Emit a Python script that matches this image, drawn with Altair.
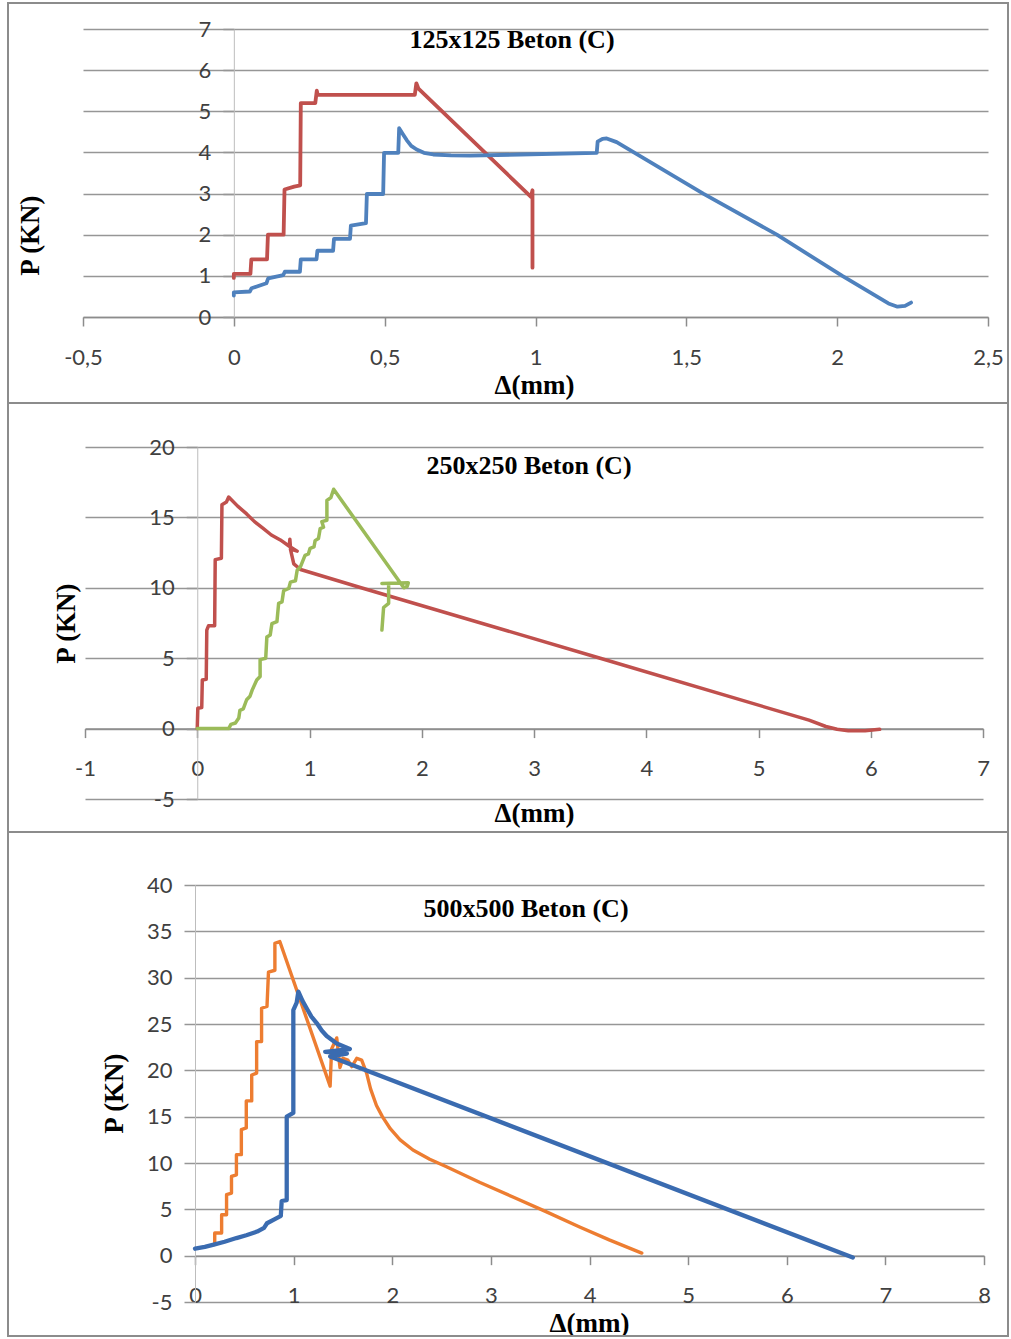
import altair as alt
import pandas as pd

# ---------------- Panel 1 : 125x125 Beton (C) ----------------
p1_red_x = [0, 0, 0.055, 0.058, 0.11, 0.113, 0.165, 0.168, 0.2, 0.22, 0.222, 0.27, 0.275, 0.278,
            0.6, 0.605, 0.612, 0.985, 0.99, 0.99]
p1_red_y = [0.95, 1.05, 1.05, 1.4, 1.4, 2.0, 2.0, 3.1, 3.17, 3.2, 5.2, 5.2, 5.5, 5.4,
            5.4, 5.68, 5.55, 2.92, 3.08, 1.2]
p1_blue_x = [0, 0, 0.053, 0.059, 0.108, 0.114, 0.164, 0.169, 0.219, 0.222, 0.274, 0.277, 0.329, 0.332,
             0.385, 0.388, 0.438, 0.441, 0.495, 0.498, 0.545, 0.548, 0.56, 0.573, 0.588, 0.606, 0.63,
             0.661, 0.72, 0.783, 0.949, 1.203, 1.206, 1.222, 1.236, 1.269, 1.556, 1.80, 2.017, 2.17,
             2.20, 2.225, 2.245]
p1_blue_y = [0.52, 0.6, 0.62, 0.7, 0.82, 0.94, 1.02, 1.1, 1.1, 1.4, 1.4, 1.61, 1.61, 1.9,
             1.9, 2.22, 2.28, 2.99, 2.99, 3.99, 3.99, 4.59, 4.45, 4.30, 4.16, 4.07, 3.99,
             3.95, 3.93, 3.92, 3.95, 3.99, 4.26, 4.33, 4.34, 4.25, 3.0, 2.0, 1.0, 0.33,
             0.25, 0.27, 0.35]
p1_xticks = [-0.5, 0, 0.5, 1, 1.5, 2, 2.5]
p1_yticks = [0, 1, 2, 3, 4, 5, 6, 7]

# ---------------- Panel 2 : 250x250 Beton (C) ----------------
p2_red_x = [0, 0.005, 0.04, 0.045, 0.08, 0.085, 0.1, 0.155, 0.16, 0.215, 0.22, 0.26, 0.28, 0.36, 0.44,
            0.51, 0.59, 0.66, 0.74, 0.82, 0.825, 0.83, 0.89, 0.83, 0.86, 0.92, 1.46, 3.59, 5.45, 5.6,
            5.7, 5.8, 5.95, 6.08]
p2_red_y = [0, 1.45, 1.5, 3.45, 3.5, 7.0, 7.3, 7.3, 12.0, 12.1, 15.9, 16.1, 16.45, 15.8, 15.25,
            14.7, 14.2, 13.75, 13.4, 12.95, 13.45, 12.9, 12.6, 12.75, 11.7, 11.3, 10.0, 5.0, 0.6, 0.15,
            -0.05, -0.15, -0.15, -0.05]
p2_green_x = [0, 0.28, 0.30, 0.34, 0.37, 0.38, 0.41, 0.44, 0.47, 0.49, 0.53, 0.56, 0.56, 0.61, 0.62,
              0.65, 0.665, 0.71, 0.725, 0.755, 0.77, 0.815, 0.83, 0.875, 0.89, 0.92, 0.96, 0.99, 1.005,
              1.04, 1.05, 1.08, 1.095, 1.125, 1.11, 1.155, 1.155, 1.19, 1.215,
              1.84, 1.87, 1.88, 1.645, 1.705, 1.705, 1.66, 1.645]
p2_green_y = [0, 0, 0.3, 0.4, 0.75, 1.3, 1.4, 2.05, 2.3, 2.75, 3.45, 3.7, 4.9, 5.0, 6.5,
              6.65, 7.45, 7.6, 8.9, 9.0, 9.8, 9.95, 10.4, 10.5, 11.25, 11.5, 12.3, 12.4, 12.8,
              12.9, 13.35, 13.5, 14.2, 14.3, 14.7, 14.8, 16.2, 16.4, 17.0,
              10.0, 10.1, 10.35, 10.3, 10.3, 8.9, 8.6, 7.0]
p2_xticks = [-1, 0, 1, 2, 3, 4, 5, 6, 7]
p2_yticks = [-5, 0, 5, 10, 15, 20]

# ---------------- Panel 3 : 500x500 Beton (C) ----------------
p3_orange_x = [0.2, 0.2, 0.27, 0.27, 0.32, 0.32, 0.37, 0.37, 0.42, 0.42, 0.47, 0.47, 0.52, 0.52,
               0.575, 0.575, 0.625, 0.625, 0.675, 0.675, 0.73, 0.745, 0.81, 0.81, 0.86,
               1.37, 1.385, 1.437, 1.47, 1.50, 1.55, 1.59, 1.64, 1.69, 1.74, 1.78, 1.84, 1.9, 1.98,
               2.08, 2.21, 2.38, 2.55, 2.89, 3.23, 3.57, 3.9, 4.2, 4.53]
p3_orange_y = [1.2, 2.45, 2.45, 4.42, 4.42, 6.58, 6.76, 8.55, 8.73, 10.9, 10.9, 13.6, 13.78, 16.7,
               16.7, 19.5, 19.7, 23.1, 23.1, 26.7, 26.9, 30.6, 30.8, 33.7, 33.9,
               18.3, 22.3, 23.5, 20.3, 21.3, 21.1, 20.4, 21.3, 21.1, 19.7, 18.0, 16.2, 15.0, 13.7,
               12.5, 11.4, 10.4, 9.6, 7.9, 6.3, 4.7, 3.1, 1.7, 0.28]
p3_blue_x = [0.0, 0.1, 0.19, 0.3, 0.42, 0.52, 0.63, 0.7, 0.73, 0.8, 0.862, 0.87, 0.879, 0.93, 0.93,
             0.997, 0.997, 1.031, 1.048, 1.09, 1.132, 1.18, 1.234, 1.285, 1.335, 1.437, 1.57, 1.32,
             1.54, 1.37, 6.67]
p3_blue_y = [0.75, 0.95, 1.2, 1.5, 1.9, 2.2, 2.6, 3.0, 3.5, 3.9, 4.24, 4.3, 5.9, 6.0, 15.0,
             15.4, 26.5, 27.3, 28.5, 27.5, 26.7, 25.8, 25.1, 24.3, 23.7, 22.9, 22.3, 22.0,
             21.8, 21.5, -0.2]
p3_xticks = [0, 1, 2, 3, 4, 5, 6, 7, 8]
p3_yticks = [-5, 0, 5, 10, 15, 20, 25, 30, 35, 40]

TITLE_FONT = "Liberation Serif"
LABEL_FONT = "Lato"
GRID = "#969696"
LBL_EXPR = "replace(toString(datum.value), '.', ',')"
FRAME_L, FRAME_R = 8, 1008
one = pd.DataFrame({"k": [0]})


def panel(series, xdom, ydom, xvals, yvals, left, top, W, H, ftop, fbot,
          title, tc, ytc, xtc):
    x0px = W * (0 - xdom[0]) / (xdom[1] - xdom[0])
    y0px = H * (0 - ydom[0]) / (ydom[1] - ydom[0])
    x0_page = left + x0px
    y0_page = top + H - y0px

    xenc = alt.X("x:Q", scale=alt.Scale(domain=xdom, nice=False, zero=False),
                 axis=alt.Axis(values=xvals, labelExpr=LBL_EXPR, grid=False, offset=-y0px,
                               domainColor="#8c8c8c", domainWidth=1.5, tickColor="#8c8c8c",
                               tickWidth=1.5, tickSize=9, labelPadding=21, labelFont=LABEL_FONT,
                               labelFontSize=22, labelColor="#404040", labelFlush=False,
                               labelOverlap=False, title="Δ(mm)", titleFont=TITLE_FONT,
                               titleFontWeight="bold", titleFontSize=27, titleColor="#000000",
                               titleX=xtc[0] - left, titleY=xtc[1] - y0_page,
                               titleBaseline="middle", titleAlign="center"))
    yenc = alt.Y("y:Q", scale=alt.Scale(domain=ydom, nice=False, zero=False),
                 axis=alt.Axis(values=yvals, labelExpr=LBL_EXPR, grid=True, gridColor=GRID,
                               gridWidth=1.6, offset=-x0px, domainColor="#bdbdbd", domainWidth=1,
                               tickColor=GRID, tickWidth=1.5, tickSize=11, labelPadding=12,
                               labelFont=LABEL_FONT, labelFontSize=22, labelColor="#404040",
                               labelOverlap=False, labelFlush=False, title="P (KN)",
                               titleFont=TITLE_FONT, titleFontWeight="bold", titleFontSize=27,
                               titleColor="#000000", titleX=ytc[0] - x0_page, titleY=ytc[1] - top,
                               titleBaseline="middle", titleAlign="center"))

    frame = alt.Chart(one).mark_rect(fillOpacity=0, stroke="#8c8c8c", strokeWidth=2).encode(
        x=alt.value(FRAME_L - left), x2=alt.value(FRAME_R - left),
        y=alt.value(ftop - top), y2=alt.value(fbot - top))
    layers = [frame]
    for xs, ys, color, width in series:
        df = pd.DataFrame({"x": xs, "y": ys, "i": list(range(len(xs)))})
        layers.append(alt.Chart(df).mark_line(color=color, strokeWidth=width,
                                              strokeJoin="round", strokeCap="round").encode(
            x=xenc, y=yenc, order=alt.Order("i:Q")))
    ttl = alt.Chart(pd.DataFrame({"t": [title]})).mark_text(
        font=TITLE_FONT, fontWeight="bold", fontSize=26, color="#000000",
        align="center", baseline="middle").encode(
        text="t:N", x=alt.value(tc[0] - left), y=alt.value(tc[1] - top))
    layers.append(ttl)
    return alt.layer(*layers).properties(width=W, height=H)


def spacer(w, h):
    return alt.Chart(one).mark_point(opacity=0).encode(
        x=alt.value(0), y=alt.value(0)).properties(width=w, height=h)


p1 = panel([(p1_red_x, p1_red_y, "#C0504D", 3.8), (p1_blue_x, p1_blue_y, "#4F81BD", 3.8)],
           [-0.5, 2.5], [0, 7], p1_xticks, p1_yticks, 83, 29, 905, 288, 3, 403,
           "125x125 Beton (C)", (512, 40), (30, 235), (534, 385))
p2 = panel([(p2_red_x, p2_red_y, "#C0504D", 3.5), (p2_green_x, p2_green_y, "#9BBB59", 3.5)],
           [-1, 7], [-5, 20], p2_xticks, p2_yticks, 85, 447, 898, 352, 403, 832,
           "250x250 Beton (C)", (529, 466), (66, 623), (534, 813))
p3 = panel([(p3_orange_x, p3_orange_y, "#ED7D31", 3.4), (p3_blue_x, p3_blue_y, "#3A6BB0", 4.3)],
           [0, 8], [-5, 40], p3_xticks, p3_yticks, 195, 885, 789, 417, 832, 1336,
           "500x500 Beton (C)", (526, 909), (114, 1093), (589, 1323))

row2 = alt.hconcat(spacer(2, 352), p2, spacing=0, bounds="flush")
row3 = alt.hconcat(spacer(112, 417), p3, spacing=0, bounds="flush")

chart = alt.ConcatChart(concat=[p1, row2, row3], columns=1, align="each", bounds="full",
                        spacing=-2).properties(
    padding={"left": 7, "top": 2, "right": 0, "bottom": 0},
    background="white",
).configure_view(stroke=None)

chart.save("out.html", embed_options={"renderer": "svg", "actions": False})
